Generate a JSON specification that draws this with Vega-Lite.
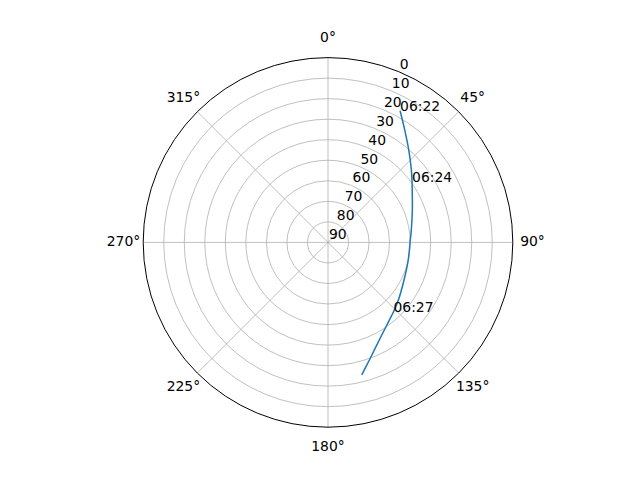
{
  "$schema": "https://vega.github.io/schema/vega-lite/v6.json",
  "width": 369.6,
  "height": 369.6,
  "autosize": {"type": "none"},
  "padding": {"left": 143.2, "top": 57.6, "right": 127.2, "bottom": 52.8},
  "background": "white",
  "datasets": {
    "track": [
      {"az": 28.7, "el": 16.9, "time": "06:22"},
      {"az": 34.3, "el": 23.7},
      {"az": 41.1, "el": 30.2},
      {"az": 49.0, "el": 36.2},
      {"az": 54.3, "el": 39.6, "time": "06:24"},
      {"az": 58.1, "el": 41.7},
      {"az": 69.0, "el": 46.0},
      {"az": 83.7, "el": 49.3},
      {"az": 88.3, "el": 49.9},
      {"az": 102.4, "el": 50.0},
      {"az": 116.3, "el": 48.7},
      {"az": 129.3, "el": 45.7},
      {"az": 136.7, "el": 43.5, "time": "06:27"},
      {"az": 141.7, "el": 41.8},
      {"az": 152.3, "el": 36.3},
      {"az": 160.6, "el": 29.3},
      {"az": 165.7, "el": 23.4}
    ],
    "angles": [
      {"az": 0, "label": "0°"},
      {"az": 45, "label": "45°"},
      {"az": 90, "label": "90°"},
      {"az": 135, "label": "135°"},
      {"az": 180, "label": "180°"},
      {"az": 225, "label": "225°"},
      {"az": 270, "label": "270°"},
      {"az": 315, "label": "315°"}
    ],
    "rings": [
      {"el": 0}, {"el": 10}, {"el": 20}, {"el": 30}, {"el": 40},
      {"el": 50}, {"el": 60}, {"el": 70}, {"el": 80}, {"el": 90}
    ]
  },
  "layer": [
    {
      "data": {"name": "rings"},
      "transform": [
        {"filter": "datum.el > 0 && datum.el < 90"},
        {"calculate": "90 - datum.el", "as": "r"}
      ],
      "mark": {"type": "point", "shape": "circle", "filled": false, "stroke": "#b0b0b0", "strokeWidth": 0.8, "opacity": 1},
      "encoding": {
        "x": {"datum": 0, "type": "quantitative", "scale": {"domain": [-90, 90], "nice": false, "zero": false}, "axis": null},
        "y": {"datum": 0, "type": "quantitative", "scale": {"domain": [-90, 90], "nice": false, "zero": false}, "axis": null},
        "size": {"field": "r", "type": "quantitative", "scale": {"type": "pow", "exponent": 2, "domain": [0, 90], "range": [0, 136604.16], "zero": true}, "legend": null}
      }
    },
    {
      "data": {"name": "angles"},
      "transform": [
        {"calculate": "90 * sin(datum.az * PI / 180)", "as": "sx"},
        {"calculate": "90 * cos(datum.az * PI / 180)", "as": "sy"},
        {"calculate": "datum.az % 180", "as": "spoke"}
      ],
      "mark": {"type": "line", "stroke": "#b0b0b0", "strokeWidth": 0.8},
      "encoding": {
        "x": {"field": "sx", "type": "quantitative"},
        "y": {"field": "sy", "type": "quantitative"},
        "detail": {"field": "spoke", "type": "nominal"},
        "order": {"field": "az", "type": "quantitative"}
      }
    },
    {
      "data": {"name": "rings"},
      "transform": [
        {"filter": "datum.el == 0"},
        {"calculate": "90 - datum.el", "as": "r"}
      ],
      "mark": {"type": "point", "shape": "circle", "filled": false, "stroke": "black", "strokeWidth": 1, "opacity": 1},
      "encoding": {
        "x": {"datum": 0, "type": "quantitative"},
        "y": {"datum": 0, "type": "quantitative"},
        "size": {"field": "r", "type": "quantitative", "scale": {"type": "pow", "exponent": 2, "domain": [0, 90], "range": [0, 136604.16], "zero": true}, "legend": null}
      }
    },
    {
      "data": {"name": "track"},
      "transform": [
        {"calculate": "(90 - datum.el) * sin(datum.az * PI / 180)", "as": "px"},
        {"calculate": "(90 - datum.el) * cos(datum.az * PI / 180)", "as": "py"}
      ],
      "mark": {"type": "line", "stroke": "#1f77b4", "strokeWidth": 1.5, "interpolate": "catmull-rom"},
      "encoding": {
        "x": {"field": "px", "type": "quantitative"},
        "y": {"field": "py", "type": "quantitative"},
        "order": {"field": "az", "type": "quantitative"}
      }
    },
    {
      "data": {"name": "track"},
      "transform": [
        {"filter": "isValid(datum.time)"},
        {"calculate": "(90 - datum.el) * sin(datum.az * PI / 180)", "as": "px"},
        {"calculate": "(90 - datum.el) * cos(datum.az * PI / 180)", "as": "py"}
      ],
      "mark": {"type": "text", "align": "left", "baseline": "alphabetic", "font": "DejaVu Sans", "fontSize": 13.9, "color": "black"},
      "encoding": {
        "x": {"field": "px", "type": "quantitative"},
        "y": {"field": "py", "type": "quantitative"},
        "text": {"field": "time", "type": "nominal"}
      }
    },
    {
      "data": {"name": "angles"},
      "transform": [
        {"calculate": "99.6 * sin(datum.az * PI / 180)", "as": "lx"},
        {"calculate": "99.6 * cos(datum.az * PI / 180)", "as": "ly"}
      ],
      "mark": {"type": "text", "align": "center", "baseline": "middle", "font": "DejaVu Sans", "fontSize": 13.9, "color": "black"},
      "encoding": {
        "x": {"field": "lx", "type": "quantitative"},
        "y": {"field": "ly", "type": "quantitative"},
        "text": {"field": "label", "type": "nominal"}
      }
    },
    {
      "data": {"name": "rings"},
      "transform": [
        {"calculate": "(90 - datum.el) * sin(22.5 * PI / 180)", "as": "rx"},
        {"calculate": "(90 - datum.el) * cos(22.5 * PI / 180)", "as": "ry"}
      ],
      "mark": {"type": "text", "align": "left", "baseline": "bottom", "dx": 1, "font": "DejaVu Sans", "fontSize": 13.9, "color": "black"},
      "encoding": {
        "x": {"field": "rx", "type": "quantitative"},
        "y": {"field": "ry", "type": "quantitative"},
        "text": {"field": "el", "type": "quantitative"}
      }
    }
  ],
  "config": {"view": {"stroke": null}}
}
